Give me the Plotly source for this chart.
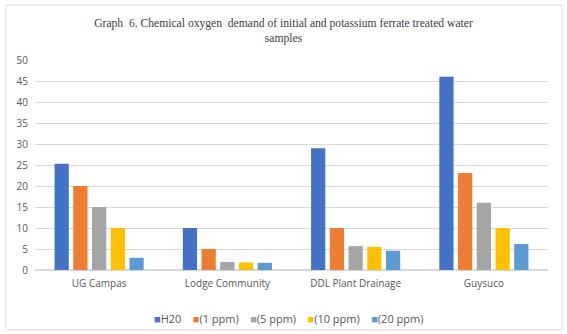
import plotly.graph_objects as go

categories = ["UG Campas", "Lodge Community", "DDL Plant Drainage", "Guysuco"]
series_names = ["H20", "(1 ppm)", "(5 ppm)", "(10 ppm)", "(20 ppm)"]
h20 = [25.3, 10, 29, 46]
ppm1 = [20, 5, 10, 23.1]
ppm5 = [15, 1.9, 5.7, 16]
ppm10 = [10, 1.8, 5.5, 10]
ppm20 = [2.9, 1.7, 4.6, 6.2]
values = [h20, ppm1, ppm5, ppm10, ppm20]
colors = ["#4472C4", "#ED7D31", "#A5A5A5", "#FFC000", "#5B9BD5"]
y_ticks = [0, 5, 10, 15, 20, 25, 30, 35, 40, 45, 50]

W, H = 567, 334
L, R = 35, 19
TOP, BOT = 60, 270  # pixel rows of plot area top / bottom
pw = W - L - R

fig = go.Figure()
for name, vals, c in zip(series_names, values, colors):
    fig.add_trace(go.Bar(x=categories, y=vals, name=name, marker_color=c,
                         marker_line_width=0, showlegend=False))

legend_text = "&nbsp;&nbsp;&nbsp;&nbsp;".join(
    f'<span style="color:{c}">■</span>{n}' for n, c in zip(series_names, colors)
)

fig.update_layout(
    width=W, height=H,
    margin=dict(l=L, r=R, t=0, b=0),
    paper_bgcolor="white", plot_bgcolor="white",
    barmode="group", bargap=0.27, bargroupgap=0.24,
    title=dict(
        text="Graph  6. Chemical oxygen  demand of initial and potassium ferrate treated water<br>samples",
        x=0.5, xanchor="center", y=1 - 27 / H, yanchor="middle",
        font=dict(family="Liberation Serif", size=11.6, color="#404040"),
    ),
    font=dict(family="Open Sans", size=10, color="#595959"),
    xaxis=dict(showgrid=False, showline=False, ticks="", automargin=False,
               ticklabelstandoff=6, tickfont=dict(size=10, color="#595959")),
    yaxis=dict(range=[0, 50], tickvals=y_ticks, showgrid=True, gridcolor="#d9d9d9", gridwidth=1,
               zeroline=True, zerolinecolor="#d9d9d9", showline=False, ticks="", automargin=False,
               ticklabelstandoff=6,
               domain=[1 - BOT / H, 1 - TOP / H],
               tickfont=dict(size=10, color="#595959")),
    showlegend=False,
)
fig.add_annotation(text=legend_text, xref="paper", yref="paper", x=(288 - L) / pw, xanchor="center",
                   y=1 - 318 / H, yanchor="middle", showarrow=False,
                   font=dict(family="Open Sans", size=11, color="#595959"))
fig.add_shape(type="rect", xref="paper", yref="paper",
              x0=(6 - L) / pw, x1=(562 - L) / pw,
              y0=1 - 330 / H, y1=1 - 5 / H,
              line=dict(color="#d9d9d9", width=1), fillcolor="rgba(0,0,0,0)", layer="below")

fig.write_html("out.html", config={"displayModeBar": False},
               post_script="document.body.style.margin='0';")
